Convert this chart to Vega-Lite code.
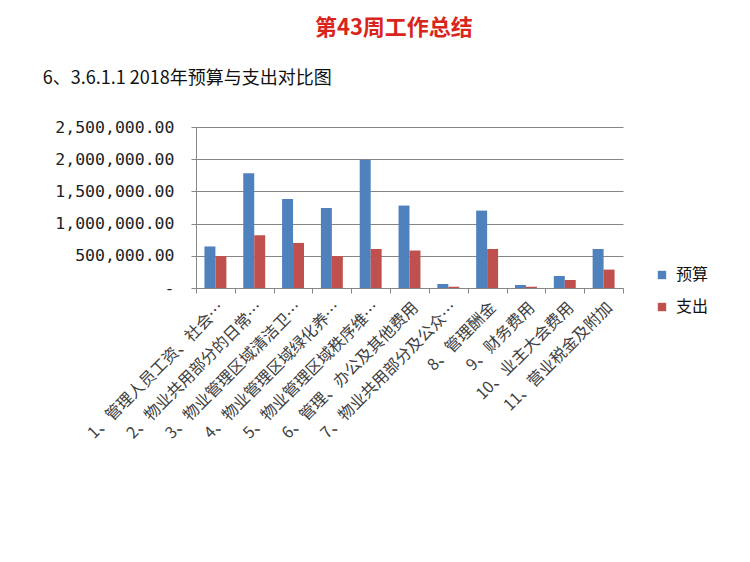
{
  "$schema": "https://vega.github.io/schema/vega-lite/v6.json",
  "background": "white",
  "padding": {"left": 42, "top": 17, "right": 0, "bottom": 0},
  "title": {"text": "第43周工作总结", "color": "#d9261c", "fontSize": 22, "font": "Noto Sans CJK SC", "fontWeight": "bold", "anchor": "middle", "dx": 18, "offset": 30},
  "vconcat": [
    {
      "width": 427,
      "height": 161,
      "title": {"text": "6、3.6.1.1 2018年预算与支出对比图", "anchor": "start", "frame": "bounds", "fontSize": 18, "font": "Noto Sans CJK SC", "fontWeight": "normal", "color": "#111111", "offset": 31, "dx": -12},
      "data": {"values": [
        {"item": "1、管理人员工资、社会…", "type": "预算", "value": 645000},
        {"item": "1、管理人员工资、社会…", "type": "支出", "value": 495000},
        {"item": "2、物业共用部分的日常…", "type": "预算", "value": 1780000},
        {"item": "2、物业共用部分的日常…", "type": "支出", "value": 818000},
        {"item": "3、物业管理区域清洁卫…", "type": "预算", "value": 1382000},
        {"item": "3、物业管理区域清洁卫…", "type": "支出", "value": 700000},
        {"item": "4、物业管理区域绿化养…", "type": "预算", "value": 1242000},
        {"item": "4、物业管理区域绿化养…", "type": "支出", "value": 495000},
        {"item": "5、物业管理区域秩序维…", "type": "预算", "value": 1993000},
        {"item": "5、物业管理区域秩序维…", "type": "支出", "value": 606000},
        {"item": "6、管理、办公及其他费用", "type": "预算", "value": 1280000},
        {"item": "6、管理、办公及其他费用", "type": "支出", "value": 582000},
        {"item": "7、物业共用部分及公众…", "type": "预算", "value": 62000},
        {"item": "7、物业共用部分及公众…", "type": "支出", "value": 20000},
        {"item": "8、管理酬金", "type": "预算", "value": 1202000},
        {"item": "8、管理酬金", "type": "支出", "value": 606000},
        {"item": "9、财务费用", "type": "预算", "value": 47000},
        {"item": "9、财务费用", "type": "支出", "value": 20000},
        {"item": "10、业主大会费用", "type": "预算", "value": 186000},
        {"item": "10、业主大会费用", "type": "支出", "value": 124000},
        {"item": "11、营业税金及附加", "type": "预算", "value": 606000},
        {"item": "11、营业税金及附加", "type": "支出", "value": 286000}
      ]},
      "mark": {"type": "bar"},
      "encoding": {
        "x": {
          "field": "item", "type": "nominal", "sort": null,
          "scale": {"paddingInner": 0, "paddingOuter": 0},
          "axis": {
            "title": null, "labelAngle": -45, "labelFont": "Noto Sans CJK SC", "labelFontSize": 16,
            "labelColor": "#404040", "labelLimit": 400, "labelPadding": 6,
            "tickBand": "extent", "tickSize": 5, "tickColor": "#868686", "domainColor": "#868686",
            "grid": false
          }
        },
        "xOffset": {"field": "type", "type": "nominal", "sort": ["预算", "支出"], "scale": {"paddingInner": 0, "paddingOuter": 0.77}},
        "y": {
          "field": "value", "type": "quantitative",
          "scale": {"domain": [0, 2500000], "nice": false},
          "axis": {
            "title": null, "values": [0, 500000, 1000000, 1500000, 2000000, 2500000],
            "labelExpr": "datum.value == 0 ? '-' : format(datum.value, ',.2f')",
            "labelFont": "DejaVu Sans Mono", "labelFontSize": 16.5, "labelColor": "#222222",
            "labelPadding": 17, "tickSize": 5, "tickColor": "#868686", "domainColor": "#868686",
            "gridColor": "#868686", "gridWidth": 1
          }
        },
        "color": {
          "field": "type", "type": "nominal", "sort": ["预算", "支出"],
          "scale": {"domain": ["预算", "支出"], "range": ["#4f81bd", "#c0504d"]},
          "legend": {
            "title": null, "orient": "none", "legendX": 458, "legendY": 140,
            "symbolType": "square", "symbolSize": 70, "symbolStrokeWidth": 0,
            "labelFont": "Noto Sans CJK SC", "labelFontSize": 16, "labelColor": "#111111",
            "rowPadding": 16, "labelOffset": 6
          }
        }
      }
    }
  ],
  "config": {"view": {"stroke": null}}
}
